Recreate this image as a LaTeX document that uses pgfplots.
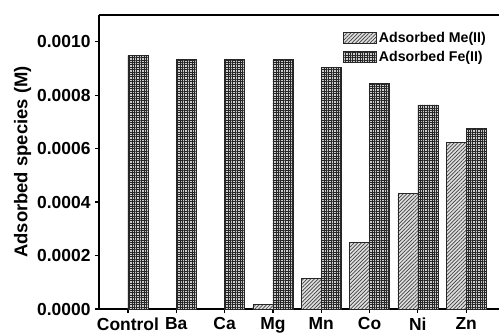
\documentclass[border=0pt]{standalone}
\usepackage{fontspec}
\setmainfont{Liberation Sans}
\usepackage{pgfplots}
\pgfplotsset{compat=1.18}
\usetikzlibrary{patterns.meta}
\begin{document}
\begin{tikzpicture}
\begin{axis}[
  scale only axis,
  width=400bp, height=294bp,
  xmin=-0.6, xmax=7.68,
  ymin=0, ymax=0.0011,
  axis x line*=bottom, axis y line*=left,
  axis line style={line width=1.4pt,-},
  ybar=0pt, bar width=20bp,
  xtick={0,...,7},
  xticklabels={Control,Ba,Ca,Mg,Mn,Co,Ni,Zn},
  ytick={0,0.0002,0.0004,0.0006,0.0008,0.001},
  scaled y ticks=false,
  yticklabel style={xshift=-1bp,/pgf/number format/.cd,fixed,fixed zerofill,precision=4,assume math mode=true},
  tick align=outside,
  major tick length=4bp,
  tick style={line width=1.2pt,black},
  minor tick num=0,
  tick label style={font=\fontsize{17.5}{17.5}\selectfont\bfseries},
  xticklabel style={yshift=-1bp},
  ylabel={Adsorbed species (M)},
  ylabel style={font=\fontsize{18.5}{18.5}\selectfont\bfseries, yshift=-1bp},
  legend style={at={(0.98,0.955)}, anchor=north east, draw=none, fill=none,
    font=\fontsize{14.2}{14.2}\selectfont\bfseries, row sep=3bp,
    /tikz/every even column/.append style={column sep=2bp}},
  legend cell align=left,
  legend image code/.code={\draw[#1,bar shift=0pt] (0bp,-5bp) rectangle (33bp,6bp);},
  clip=false,
]
\addplot[draw=black!85, line width=0.6pt, fill=gray!25,
  postaction={pattern={Lines[angle=45,distance=2.6bp,line width=0.7bp]}, pattern color=black!75}]
  coordinates {(3,0.000016) (4,0.000115) (5,0.00025) (6,0.000433) (7,0.000623)};
\addlegendentry{Adsorbed Me(II)}
\addplot[draw=black!85, line width=0.6pt, fill=gray!40,
  postaction={pattern={Hatch[angle=0,distance=2.4bp,line width=0.8bp]}, pattern color=black!85}]
  coordinates {(0,0.000948) (1,0.000935) (2,0.000935) (3,0.000933) (4,0.000905) (5,0.000843) (6,0.000764) (7,0.000677)};
\addlegendentry{Adsorbed Fe(II)}
\draw[line width=1.4pt] (rel axis cs:0,1) -- (rel axis cs:1,1);
\coordinate (sw) at (rel axis cs:0,0);
\coordinate (ne) at (rel axis cs:1,1);
\end{axis}
\pgfresetboundingbox
\path ([shift={(-99bp,-27bp)}]sw) rectangle ([shift={(0bp,15bp)}]ne);
\end{tikzpicture}
\end{document}
